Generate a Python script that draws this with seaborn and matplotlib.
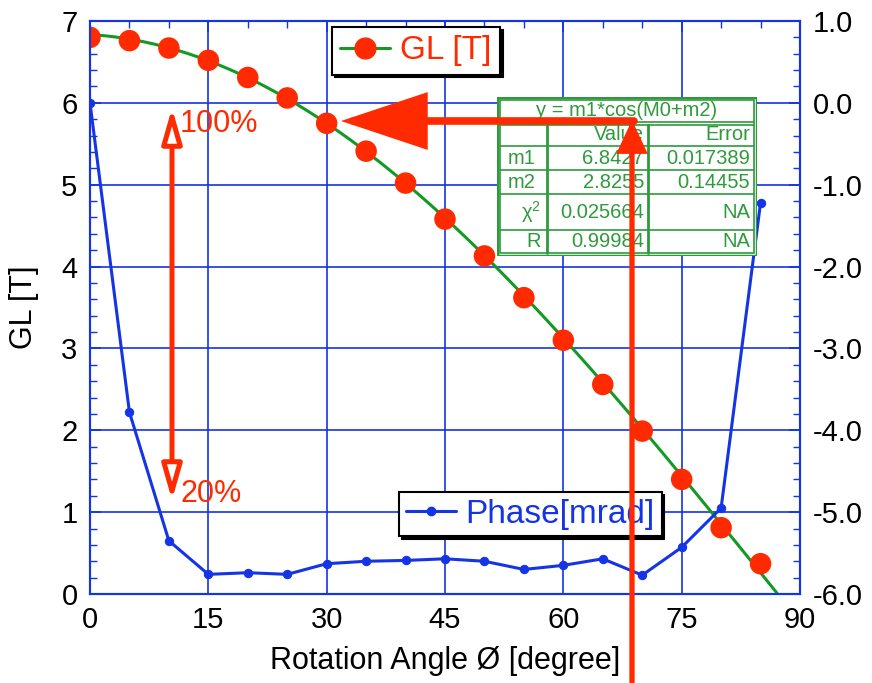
import numpy as np
import pandas as pd
import matplotlib
matplotlib.use("Agg")
import matplotlib.pyplot as plt
from matplotlib.patches import FancyArrowPatch, Rectangle
from matplotlib.lines import Line2D
from matplotlib.ticker import MultipleLocator, FormatStrFormatter
import seaborn as sns

# ---------------- data ----------------
angle = [0, 5, 10, 15, 20, 25, 30, 35, 40, 45, 50, 55, 60, 65, 70, 75, 80, 85]
gl_T = [6.80, 6.76, 6.67, 6.52, 6.31, 6.06, 5.75, 5.41, 5.02, 4.58, 4.13, 3.62,
        3.10, 2.56, 1.99, 1.40, 0.81, 0.37]
phase_mrad = [0.00, -3.78, -5.35, -5.76, -5.74, -5.76, -5.63, -5.60, -5.59, -5.57,
              -5.60, -5.70, -5.65, -5.57, -5.77, -5.43, -4.95, -1.22]
# fit parameters (from the fit table)
fit_m1 = 6.8427
fit_m2 = 2.8255
fit_rows = ["m1", "m2", "χ$^2$", "R"]
fit_values = ["6.8427", "2.8255", "0.025664", "0.99984"]
fit_errors = ["0.017389", "0.14455", "NA", "NA"]
fit_title = "y = m1*cos(M0+m2)"

xticks = [0, 15, 30, 45, 60, 75, 90]

BLUE = "#1434e6"
RED = "#ff2a00"
GREEN = "#149a24"
TGREEN = "#2e9a3c"

sns.set_theme(style="white")
plt.rcParams["font.family"] = ["Liberation Sans", "DejaVu Sans"]
plt.rcParams["axes.unicode_minus"] = False
plt.rcParams["mathtext.fontset"] = "custom"
plt.rcParams["mathtext.rm"] = "Liberation Sans"
plt.rcParams["text.color"] = "black"
plt.rcParams["axes.labelcolor"] = "black"

W, H = 872, 683
fig = plt.figure(figsize=(W / 100, H / 100), dpi=100)
L, R_, T, B = 90, 800, 21, 594
pos = [L / W, 1 - B / H, (R_ - L) / W, (B - T) / H]
ax = fig.add_axes(pos)

fit_x = np.linspace(0, 90, 400)
fit_df = pd.DataFrame({"angle": fit_x,
                       "fit": fit_m1 * np.cos(np.radians(fit_x + fit_m2))})
df = pd.DataFrame({"angle": angle, "GL": gl_T, "phase": phase_mrad})

sns.lineplot(data=fit_df, x="angle", y="fit", ax=ax, color=GREEN, lw=2.2, zorder=3)
sns.scatterplot(data=df, x="angle", y="GL", ax=ax, color=RED, s=240,
                edgecolor="none", zorder=4)

ax.set_xlim(0, 90)
ax.set_ylim(0, 7)
ax.xaxis.set_major_locator(MultipleLocator(15))
ax.xaxis.set_minor_locator(MultipleLocator(5))
ax.yaxis.set_major_locator(MultipleLocator(1))
ax.yaxis.set_minor_locator(MultipleLocator(0.2))
ax.set_xticks(xticks)
ax.grid(True, which="major", color=BLUE, lw=1.2)
ax.set_axisbelow(True)
for s in ax.spines.values():
    s.set_color(BLUE)
    s.set_linewidth(1.5)
ax.tick_params(which="both", direction="in", colors=BLUE, labelcolor="black",
               top=True, labelsize=21)
ax.tick_params(which="major", length=8, width=1.2, pad=9)
ax.tick_params(which="minor", length=5, width=1.0)
ax.set_xlabel("Rotation Angle Ø [degree]", fontsize=22, labelpad=8, color="black")
ax.set_ylabel("GL [T]", fontsize=22, labelpad=16, color="black")

ax2 = ax.twinx()
sns.lineplot(data=df, x="angle", y="phase", ax=ax2, color=BLUE, lw=2.2,
             marker="o", markersize=6, markeredgecolor=BLUE, zorder=3)
ax2.set_ylim(-6, 1)
ax2.yaxis.set_major_locator(MultipleLocator(1))
ax2.yaxis.set_minor_locator(MultipleLocator(0.2))
ax2.yaxis.set_major_formatter(FormatStrFormatter("%.1f"))
ax2.set_ylabel("")
for s in ax2.spines.values():
    s.set_color(BLUE)
    s.set_linewidth(1.5)
ax2.tick_params(which="both", direction="in", colors=BLUE, labelcolor="black",
                labelsize=21)
ax2.tick_params(which="major", length=8, width=1.2, pad=9)
ax2.tick_params(which="minor", length=5, width=1.0)

# legends
h_gl = Line2D([], [], color=GREEN, lw=2.2, marker="o", markersize=15,
              markerfacecolor=RED, markeredgecolor=RED)
leg1 = ax.legend([h_gl], ["GL [T]"], loc="upper left",
                 bbox_to_anchor=(332 / W, 1 - 27 / H), bbox_transform=fig.transFigure,
                 borderaxespad=0, fontsize=24, frameon=True, fancybox=False,
                 shadow={"color": "black", "alpha": 1.0}, handlelength=1.5,
                 handletextpad=0.3, borderpad=0.25, labelcolor=RED)
leg1.get_frame().set_edgecolor("black")
leg1.get_frame().set_linewidth(1.5)

h_ph = Line2D([], [], color=BLUE, lw=2.2, marker="o", markersize=6)
leg2 = ax2.legend([h_ph], ["Phase[mrad]"], loc="upper left",
                  bbox_to_anchor=(399 / W, 1 - 492 / H), bbox_transform=fig.transFigure,
                  borderaxespad=0, fontsize=24, frameon=True, fancybox=False,
                  shadow={"color": "black", "alpha": 1.0}, handlelength=1.5,
                  handletextpad=0.3, borderpad=0.2, labelcolor=BLUE)
leg2.get_frame().set_edgecolor("black")
leg2.get_frame().set_linewidth(1.5)

# fit table (inset in pixel coords)
tx0, ty0, tx1, ty1 = 497, 97, 757, 256
tab = fig.add_axes([tx0 / W, 1 - ty1 / H, (tx1 - tx0) / W, (ty1 - ty0) / H], zorder=5)
tw, th = tx1 - tx0, ty1 - ty0
tab.set_xlim(0, tw)
tab.set_ylim(th, 0)
tab.axis("off")
tab.add_patch(Rectangle((0, 0), tw, th, facecolor="white", edgecolor=TGREEN, lw=2.5))
tab.add_patch(Rectangle((3, 3), tw - 6, th - 6, facecolor="none", edgecolor=TGREEN, lw=1.2))
rows_y = [26, 49, 73, 97, 133, th - 3]
col_x = [50, 151]
tab.plot([3, tw - 3], [rows_y[0] - 1.5, rows_y[0] - 1.5], color=TGREEN, lw=1.2)
tab.plot([3, tw - 3], [rows_y[0] + 1.5, rows_y[0] + 1.5], color=TGREEN, lw=1.2)
for yy in rows_y[1:-1]:
    tab.plot([3, tw - 3], [yy, yy], color=TGREEN, lw=1.2)
for xx in col_x:
    tab.plot([xx, xx], [rows_y[0] + 1.5, th - 3], color=TGREEN, lw=2.0)
fs = 14.5
tab.text(tw / 2, 14, fit_title, ha="center", va="center", color=TGREEN, fontsize=fs)
tab.text(col_x[1] - 4, 38, "Value", ha="right", va="center", color=TGREEN, fontsize=fs)
tab.text(tw - 7, 38, "Error", ha="right", va="center", color=TGREEN, fontsize=fs)
for i, (nm, v, e) in enumerate(zip(fit_rows, fit_values, fit_errors)):
    yc = (rows_y[i + 1] + rows_y[i + 2]) / 2
    if i < 2:
        tab.text(col_x[0] / 2, yc, nm, ha="center", va="center", color=TGREEN, fontsize=fs)
    else:
        tab.text(col_x[0] - 6, yc, nm, ha="right", va="center", color=TGREEN, fontsize=fs)
    tab.text(col_x[1] - 4, yc, v, ha="right", va="center", color=TGREEN, fontsize=fs)
    tab.text(tw - 7, yc, e, ha="right", va="center", color=TGREEN, fontsize=fs)

# overlay for red annotations
ov = fig.add_axes(pos, zorder=10)
ov.set_xlim(0, 90)
ov.set_ylim(0, 7)
ov.axis("off")
ov.patch.set_visible(False)

def px2d(px, py):
    return ((px - L) / (R_ - L) * 90, (B - py) / (B - T) * 7)

# vertical line from bottom of figure up to arrow
a = FancyArrowPatch(px2d(632, 683), px2d(632, 120),
                    arrowstyle="-|>,head_length=0.9,head_width=0.42",
                    mutation_scale=20, color=RED, lw=3.8, clip_on=False,
                    shrinkA=0, shrinkB=0, joinstyle="miter")
ov.add_patch(a)
# horizontal big arrow
a2 = FancyArrowPatch(px2d(634, 121), px2d(341, 121),
                     arrowstyle="-|>,head_length=2.55,head_width=0.85",
                     mutation_scale=20, color=RED, lw=5.5, clip_on=False,
                     shrinkA=0, shrinkB=0, joinstyle="miter")
ov.add_patch(a2)
# double arrow 100% / 20%
a3 = FancyArrowPatch(px2d(172, 500), px2d(172, 108),
                     arrowstyle="<|-|>,head_length=1.05,head_width=0.3",
                     mutation_scale=20, facecolor="white", edgecolor=RED, lw=3.6,
                     clip_on=False, shrinkA=0, shrinkB=0)
ov.add_patch(a3)
x100, y100 = px2d(180, 124)
ov.text(x100, y100, "100%", color=RED, fontsize=22, ha="left", va="center")
x20, y20 = px2d(180, 494)
ov.text(x20, y20, "20%", color=RED, fontsize=22, ha="left", va="center")

fig.savefig("out.png", dpi=100)
